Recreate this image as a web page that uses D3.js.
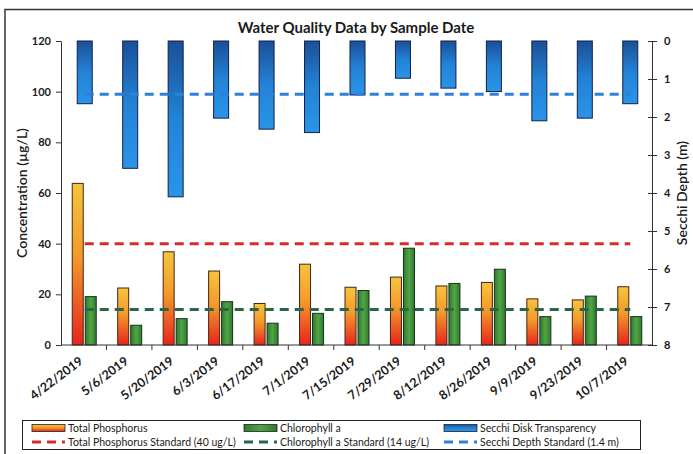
<!DOCTYPE html>
<html>
<head>
<meta charset="utf-8">
<script src="https://cdn.jsdelivr.net/npm/d3@7"></script>
<style>
  body { margin: 0; background: #fff; }
  text { font-family: Lato, "Open Sans", sans-serif; fill: #1a1a1a; }
</style>
</head>
<body>
<script>

var width = 693,
    height = 454;

// values
var dates = ["4/22/2019", "5/6/2019", "5/20/2019", "6/3/2019", "6/17/2019", "7/1/2019", "7/15/2019",
             "7/29/2019", "8/12/2019", "8/26/2019", "9/9/2019", "9/23/2019", "10/7/2019"];
var phosphorus = [63.8, 22.5, 36.8, 29.2, 16.4, 31.9, 22.8, 26.8, 23.3, 24.7, 18.2, 17.8, 23.0];
var chlorophyll = [19.1, 7.8, 10.4, 17.1, 8.6, 12.5, 21.5, 38.2, 24.3, 29.9, 11.2, 19.3, 11.2];
var secchi = [1.65, 3.35, 4.1, 2.03, 2.32, 2.41, 1.42, 0.98, 1.24, 1.33, 2.1, 2.03, 1.65];

var tpStandard = 40,
    chlStandard = 14,
    secchiStandard = 1.4;

var leftTicks = [0, 20, 40, 60, 80, 100, 120];
var rightTicks = [0, 1, 2, 3, 4, 5, 6, 7, 8];

var legendItems = [
  { label: "Total Phosphorus", kind: "bar", fill: "url(#gTP)" },
  { label: "Chlorophyll a", kind: "bar", fill: "url(#gChl)" },
  { label: "Secchi Disk Transparency", kind: "bar", fill: "url(#gSec)" },
  { label: "Total Phosphorus Standard (40 ug/L)", kind: "line", color: "#d92a2e" },
  { label: "Chlorophyll a Standard (14 ug/L)", kind: "line", color: "#2a6645" },
  { label: "Secchi Depth Standard (1.4 m)", kind: "line", color: "#2f80d8" }
];

var margin = { left: 61, right: 41, top: 41, bottom: 109 };

var svg = d3.select("body").append("svg")
    .attr("width", width)
    .attr("height", height);

var defs = svg.append("defs");

function vgrad(id, stops, horiz) {
  var g = defs.append("linearGradient").attr("id", id)
      .attr("x1", 0).attr("y1", 0)
      .attr("x2", horiz ? 1 : 0).attr("y2", horiz ? 0 : 1);
  stops.forEach(function(s) {
    g.append("stop").attr("offset", s[0]).attr("stop-color", s[1]);
  });
}
vgrad("gTP", [[0, "#f6c43c"], [0.45, "#f39a2c"], [1, "#e8241c"]]);
vgrad("gChl", [[0, "#2f7a2e"], [0.5, "#52a446"], [1, "#2f7a2e"]], true);
vgrad("gSec", [[0, "#1b4f98"], [0.5, "#2383d6"], [1, "#2a94e8"]]);

// outer frame (only top and left edges are inside the photo)
svg.append("path")
    .attr("d", "M5,454 L5,9.5 L693,9.5")
    .attr("fill", "none")
    .attr("stroke", "#333")
    .attr("stroke-width", 1.5);

svg.append("text")
    .attr("x", 356)
    .attr("y", 33)
    .attr("text-anchor", "middle")
    .style("font-size", "15px")
    .style("font-weight", "700")
    .text("Water Quality Data by Sample Date");

var x0 = margin.left, x1 = width - margin.right;
var y0 = margin.top, y1 = height - margin.bottom;

var x = d3.scaleBand().domain(dates).range([x0, x1]);
var y = d3.scaleLinear().domain([0, 120]).range([y1, y0]);
var yr = d3.scaleLinear().domain([0, 8]).range([y0, y1]);

function cx(d) { return x(d) + x.bandwidth() / 2 + 1; }

// secchi bars hang from the top (secondary axis)
svg.append("g").selectAll("rect")
  .data(secchi)
  .enter().append("rect")
    .attr("x", function(d, i) { return cx(dates[i]) - 7.5; })
    .attr("y", yr(0))
    .attr("width", 15)
    .attr("height", function(d) { return yr(d) - yr(0); })
    .attr("fill", "url(#gSec)")
    .attr("stroke", "#10204a")
    .attr("stroke-width", 1);

svg.append("g").selectAll("rect")
  .data(phosphorus)
  .enter().append("rect")
    .attr("x", function(d, i) { return cx(dates[i]) - 12.5; })
    .attr("y", function(d) { return y(d); })
    .attr("width", 11)
    .attr("height", function(d) { return y(0) - y(d); })
    .attr("fill", "url(#gTP)")
    .attr("stroke", "#4a2410")
    .attr("stroke-width", 1);

svg.append("g").selectAll("rect")
  .data(chlorophyll)
  .enter().append("rect")
    .attr("x", function(d, i) { return cx(dates[i]) + 0.5; })
    .attr("y", function(d) { return y(d); })
    .attr("width", 11)
    .attr("height", function(d) { return y(0) - y(d); })
    .attr("fill", "url(#gChl)")
    .attr("stroke", "#14331a")
    .attr("stroke-width", 1);

// standards as dashed lines from first to last category
var first = cx(dates[0]), last = cx(dates[dates.length - 1]);
function stdLine(yy, color) {
  svg.append("line")
      .attr("x1", first).attr("x2", last)
      .attr("y1", yy).attr("y2", yy)
      .attr("stroke", color)
      .attr("stroke-width", 3)
      .attr("stroke-dasharray", "9,6");
}
stdLine(y(tpStandard), "#d92a2e");
stdLine(y(chlStandard), "#2a6645");
stdLine(yr(secchiStandard), "#2f80d8");

// left axis
var gl = svg.append("g").attr("transform", "translate(" + x0 + ",0)");
gl.call(d3.axisLeft(y).tickValues(d3.range(0, 121, 4)).tickSize(3).tickFormat(""));
gl.call(d3.axisLeft(y).tickValues(leftTicks).tickSizeInner(5).tickSizeOuter(0).tickPadding(5));
gl.selectAll("text").style("font-size", "11px").style("font-weight", "700");
gl.selectAll("path, line").attr("stroke", "#333");

// right axis
var gr = svg.append("g").attr("transform", "translate(" + x1 + ",0)");
gr.call(d3.axisRight(yr).tickValues(d3.range(0, 8.01, 0.2)).tickSize(3).tickFormat(""));
gr.call(d3.axisRight(yr).tickValues(rightTicks).tickSizeInner(5).tickSizeOuter(0).tickPadding(7));
gr.selectAll("text").style("font-size", "11px").style("font-weight", "700");
gr.selectAll("path, line").attr("stroke", "#333");
gr.selectAll(".tick line").attr("x1", -4);

// bottom axis, ticks between categories
var gb = svg.append("g").attr("transform", "translate(0," + y1 + ")");
gb.append("line").attr("x1", x0).attr("x2", x1).attr("stroke", "#333");
gb.selectAll(".sep")
  .data(dates.slice(1))
  .enter().append("line")
    .attr("x1", function(d) { return x(d); })
    .attr("x2", function(d) { return x(d); })
    .attr("y1", 0).attr("y2", 5)
    .attr("stroke", "#333");
gb.selectAll(".lab")
  .data(dates)
  .enter().append("text")
    .attr("transform", function(d) { return "translate(" + (cx(d) - 1) + ",18) rotate(-37)"; })
    .attr("text-anchor", "end")
    .style("font-size", "12.5px")
    .style("font-weight", "700")
    .text(function(d) { return d; });

// axis titles
svg.append("text")
    .attr("transform", "translate(27," + ((y0 + y1) / 2) + ") rotate(-90)")
    .attr("text-anchor", "middle")
    .style("font-size", "14px")
    .style("font-weight", "600")
    .text("Concentration (µg/L)");

svg.append("text")
    .attr("transform", "translate(687," + ((y0 + y1) / 2) + ") rotate(-90)")
    .attr("text-anchor", "middle")
    .style("font-size", "14px")
    .style("font-weight", "600")
    .text("Secchi Depth (m)");

// legend
var lg = svg.append("g");
lg.append("rect")
    .attr("x", 22.5).attr("y", 420.5)
    .attr("width", 618).attr("height", 29)
    .attr("fill", "#fff")
    .attr("stroke", "#222");

var colX = [32, 244, 444];
var item = lg.selectAll(".item")
  .data(legendItems)
  .enter().append("g")
    .attr("transform", function(d, i) {
      return "translate(" + colX[i % 3] + "," + (i < 3 ? 428 : 442) + ")";
    });

item.filter(function(d) { return d.kind == "bar"; })
  .append("rect")
    .attr("x", 0).attr("y", -3.5)
    .attr("width", 33).attr("height", 7)
    .attr("fill", function(d) { return d.fill; })
    .attr("stroke", "#222")
    .attr("stroke-width", 0.8);

item.filter(function(d) { return d.kind == "line"; })
  .append("line")
    .attr("x1", 0).attr("x2", 33)
    .attr("stroke", function(d) { return d.color; })
    .attr("stroke-width", 3)
    .attr("stroke-dasharray", "9,6");

item.append("text")
    .attr("x", 36)
    .attr("dy", "0.35em")
    .style("font-size", "10.5px")
    .text(function(d) { return d.label; });

</script>
</body>
</html>
